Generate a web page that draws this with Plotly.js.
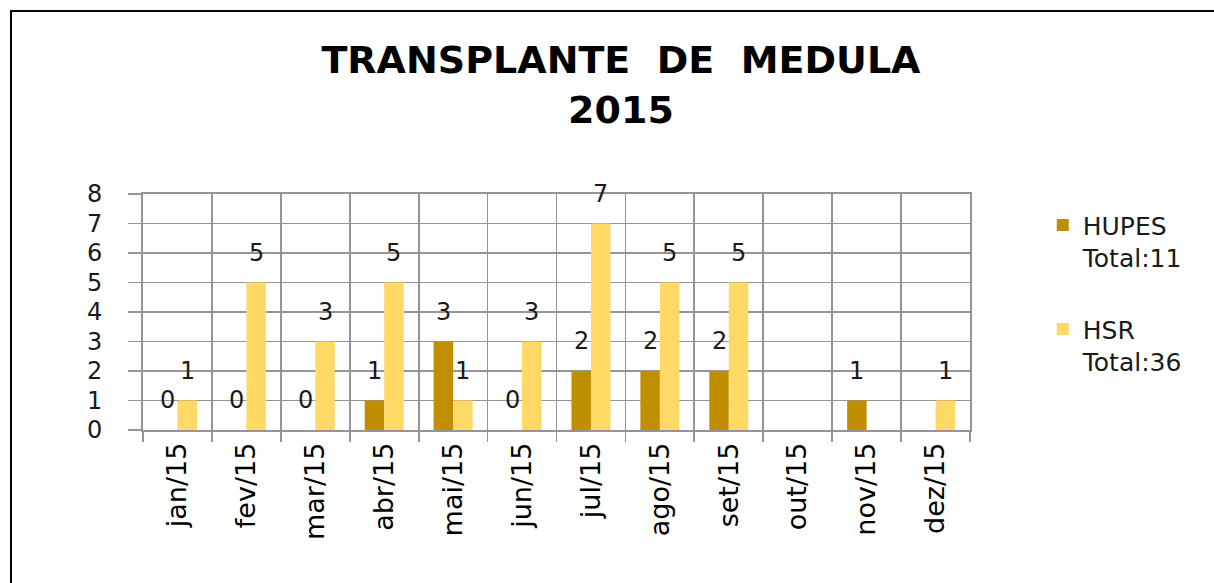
<!DOCTYPE html>
<html>
<head>
<meta charset="utf-8">
<script src="https://cdn.plot.ly/plotly-3.0.1.min.js"></script>
<style>
  html, body { margin: 0; padding: 0; background: #fff; overflow: hidden; }
  #wrap { position: relative; width: 1214px; height: 583px; overflow: hidden; }
  #chart { width: 1214px; height: 583px; }
  #frame { position: absolute; left: 10px; top: 10px; width: 1400px; height: 800px;
           border: 2px solid #000; pointer-events: none; }
</style>
</head>
<body>
<div id="wrap">
  <div id="chart"></div>
  <div id="frame"></div>
</div>
<script>
// ---- data ----
const months = ["jan/15","fev/15","mar/15","abr/15","mai/15","jun/15","jul/15","ago/15","set/15","out/15","nov/15","dez/15"];
const hupes  = [0, 0, 0, 1, 3, 0, 2, 2, 2, null, 1, null];
const hsr    = [1, 5, 3, 5, 1, 3, 7, 5, 5, null, null, 1];
const seriesNames = ["HUPES<br>Total:11", "HSR<br>Total:36"];
const titleText = "TRANSPLANTE  DE  MEDULA<br>2015";

const colors = ["#BF8F00", "#FFD966"];
const bargap = 0.434;
const halfW = (1 - bargap) / 4; // half of one bar width in category units

const txtFont = { family: "DejaVu Sans, Verdana, sans-serif", size: 24, color: "#1a1a1a" };

const traces = [hupes, hsr].map((vals, k) => ({
  type: "bar",
  name: seriesNames[k],
  legendgroup: "g" + k,
  x: months,
  y: vals,
  marker: { color: colors[k] },
  hoverinfo: "skip"
}));

// data labels placed above each bar (Excel-style, offset upward)
const annotations = [];
[hupes, hsr].forEach((vals, k) => {
  const off = k === 0 ? -halfW : halfW;
  vals.forEach((v, i) => {
    if (v === null) return;
    annotations.push({
      x: i + off, y: v, xref: "x", yref: "y",
      text: String(v), showarrow: false,
      yanchor: "bottom", xanchor: "center", yshift: 14,
      font: txtFont
    });
  });
});

const gridColor = "#959595";
const gw = 1.8;

const layout = {
  width: 1214, height: 583,
  paper_bgcolor: "#fff", plot_bgcolor: "#fff",
  margin: { l: 143, r: 244, t: 194, b: 153, pad: 0 },
  barmode: "group",
  bargap: bargap,
  bargroupgap: 0,
  showlegend: true,
  title: {
    text: titleText,
    x: 0.5115, xanchor: "center",
    y: 0.874, yref: "container", yanchor: "top",
    font: { family: "DejaVu Sans, sans-serif", size: 38, color: "#000", weight: "bold" }
  },
  xaxis: {
    type: "category",
    tickson: "boundaries",
    showgrid: true, gridcolor: gridColor, gridwidth: gw,
    showline: true, mirror: true, linecolor: gridColor, linewidth: gw,
    ticks: "outside", ticklen: 10, tickcolor: gridColor, tickwidth: gw,
    tickangle: -90,
    ticklabelstandoff: 0,
    tickfont: { family: "DejaVu Sans, sans-serif", size: 27, color: "#000" },
    automargin: false,
    fixedrange: true
  },
  yaxis: {
    range: [0, 8], dtick: 1, tick0: 0,
    showgrid: true, gridcolor: gridColor, gridwidth: gw,
    zeroline: false,
    showline: true, mirror: true, linecolor: gridColor, linewidth: gw,
    ticks: "outside", ticklen: 13, tickcolor: gridColor, tickwidth: gw,
    ticklabelstandoff: 21,
    tickfont: txtFont,
    automargin: false,
    fixedrange: true
  },
  legend: {
    x: 1.088, xanchor: "left",
    y: 0.965, yanchor: "top",
    valign: "top",
    traceorder: "grouped",
    tracegroupgap: 36,
    font: { family: "DejaVu Sans, sans-serif", size: 25, color: "#1a1a1a" },
    bgcolor: "rgba(0,0,0,0)"
  },
  annotations: annotations
};

Plotly.newPlot("chart", traces, layout, { displayModeBar: false, staticPlot: true });
</script>
</body>
</html>
